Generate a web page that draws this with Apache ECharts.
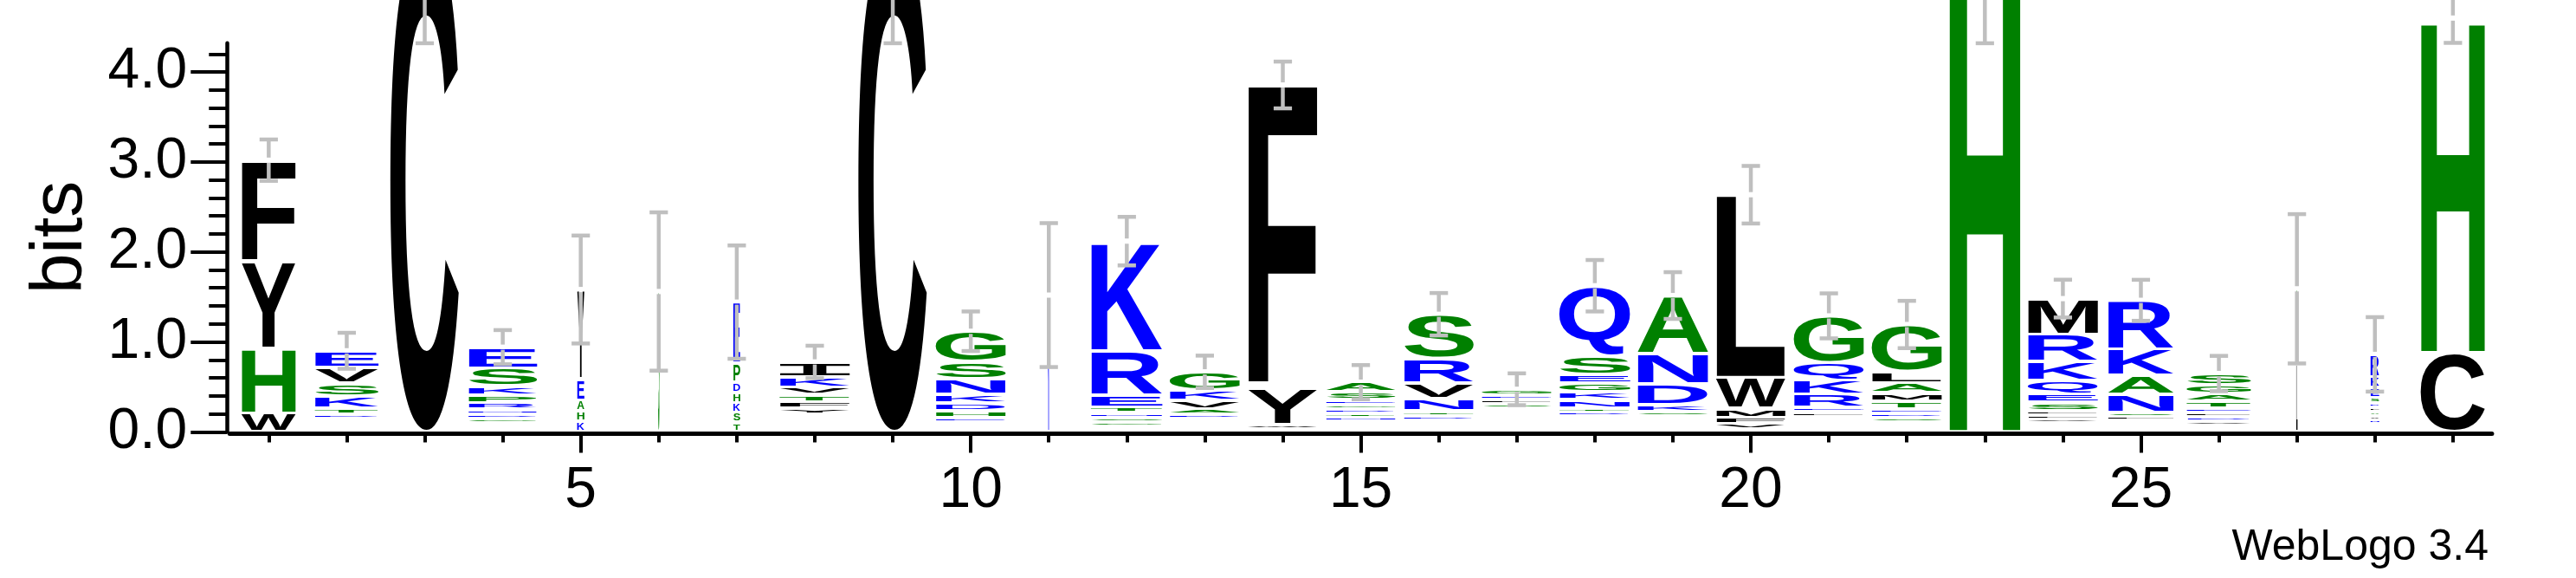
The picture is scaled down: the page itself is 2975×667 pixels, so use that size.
<!DOCTYPE html>
<html><head><meta charset="utf-8">
<script src="https://cdn.jsdelivr.net/npm/echarts@6/dist/echarts.min.js"></script>
<style>html,body{margin:0;padding:0;background:#fff}#c{width:2975px;height:667px}</style>
</head><body><div id="c"></div><script>
// ---------------- data (letters listed bottom -> top, heights in bits) ----------------
const positions = [1,2,3,4,5,6,7,8,9,10,11,12,13,14,15,16,17,18,19,20,21,22,23,24,25,26,27,28,29];
const c01 = [['W',.21],['H',.72],['Y',.96],['F',1.13]];
const c02 = [['C',.03],['M',.03],['W',.03],['F',.03],['I',.03],['D',.048],['T',.067],['K',.132],['S',.143],['V',.178],['E',.183]];
const c03 = [['C',5.54]];
const c04 = [['C',.034],['W',.034],['M',.034],['G',.045],['D',.05],['N',.055],['R',.072],['P',.088],['K',.098],['S',.2],['E',.231]];
const c05 = [['K',.115],['H',.117],['A',.12],['E',.24],['Y',.99]];
const c06 = [['S',1.56]];
const c07 = [['T',.105],['S',.108],['K',.11],['H',.112],['D',.117],['P',.215],['E',.675]];
const c08 = [['C',.0325],['W',.0325],['M',.0325],['H',.0325],['G',.0325],['Q',.0325],['Y',.067],['F',.072],['T',.08],['V',.085],['K',.11],['I',.168]];
const c09 = [['C',5.54]];
const c10 = [['C',.036],['W',.036],['F',.036],['E',.048],['H',.078],['D',.084],['K',.099],['N',.171],['S',.188],['G',.342]];
const c11 = [['K',1.52]];
const c12 = [['C',.031],['W',.031],['G',.045],['S',.05],['N',.055],['T',.06],['E',.131],['R',.498],['K',1.219]];
const c13 = [['C',.03],['W',.03],['M',.03],['F',.03],['I',.03],['D',.048],['A',.058],['V',.096],['K',.115],['G',.2]];
const c14 = [['C',.035],['W',.048],['Y',.411],['F',3.362]];
const c15 = [['C',.0285],['W',.0285],['M',.0285],['F',.0285],['N',.045],['T',.048],['D',.048],['G',.05],['E',.05],['S',.087],['A',.11]];
const c16 = [['C',.033],['W',.033],['M',.033],['F',.033],['D',.048],['T',.05],['N',.138],['V',.178],['R',.27],['S',.491]];
const c17 = [['C',.033],['W',.033],['M',.033],['F',.033],['Y',.033],['H',.033],['P',.033],['I',.033],['S',.048],['L',.048],['E',.05],['G',.063]];
const c18 = [['C',.029],['W',.029],['M',.029],['F',.029],['Y',.029],['I',.029],['D',.045],['T',.048],['N',.088],['K',.092],['G',.095],['E',.098],['S',.204],['Q',.78]];
const c19 = [['C',.035],['W',.035],['M',.035],['F',.035],['Y',.035],['S',.045],['K',.079],['D',.237],['N',.332],['A',.647]];
const c20 = [['C',.029],['V',.058],['F',.07],['M',.106],['W',.34],['L',2.033]];
const c21 = [['C',.034],['W',.034],['M',.034],['F',.034],['Y',.034],['L',.05],['E',.053],['R',.146],['K',.159],['Q',.193],['G',.518]];
const c22 = [['C',.028],['W',.028],['F',.028],['Y',.028],['S',.046],['D',.048],['E',.05],['T',.088],['M',.09],['A',.112],['L',.127],['G',.52]];
const c23 = [['H',5.2]];
const c24 = [['C',.032],['W',.032],['Y',.032],['V',.045],['F',.048],['L',.048],['S',.09],['E',.095],['Q',.153],['K',.208],['R',.303],['M',.395]];
const c25 = [['C',.0315],['W',.0315],['M',.0315],['Y',.0315],['F',.045],['S',.048],['N',.2],['A',.209],['K',.294],['R',.54]];
const c26 = [['C',.037],['W',.037],['V',.045],['D',.046],['L',.048],['E',.05],['T',.075],['A',.085],['G',.095],['S',.13]];
const c27 = [['L',.75],['G',.84]];
const c28 = [['T',.043],['Q',.044],['N',.045],['V',.046],['A',.047],['L',.048],['D',.048],['S',.06],['E',.11],['K',.12],['R',.25]];
const c29 = [['C',.88],['H',3.72]];
const occupancy = [0.76,0.89,0.96,0.96,0.10,0.018,0.095,0.98,0.96,0.98,0.018,1.0,0.98,0.975,0.97,0.975,0.975,0.99,0.99,0.97,0.98,0.98,1.0,0.98,0.92,0.90,0.018,0.12,0.90];
const errorBits = [0.23,0.20,1.22,0.19,0.60,0.88,0.63,0.18,1.22,0.22,0.80,0.27,0.18,0.26,0.19,0.236,0.177,0.286,0.26,0.32,0.25,0.263,0.88,0.21,0.228,0.196,0.83,0.414,0.276];
const xTickValues = positions;
const xLabelValues = [5,10,15,20,25];
const yLabelValues = [0,1,2,3,4];
const yMinorValues = [0.2,0.4,0.6,0.8,1.2,1.4,1.6,1.8,2.2,2.4,2.6,2.8,3.2,3.4,3.6,3.8,4.2];
const yMax = 4.3219;
const hydrophilic = 'RKDENQ', neutral = 'SGHTAP', hydrophobic = 'YVMCLFIW';

// ---------------- styling ----------------
const COLORS = {hydrophilic:'#0000FF', neutral:'#008000', hydrophobic:'#000000'};
const LETTER_WIDTH = 0.921, LETTER_GAP = 4;
const ERR_COLOR = '#BFBFBF', ERR_WIDTH = 4.5, ERR_CAP = 0.235, ERR_GAP = 3;
const SANS = 'Liberation Sans', MONO = 'DejaVu Sans Mono';

function colorOf(ch){
  if (hydrophilic.includes(ch)) return COLORS.hydrophilic;
  if (neutral.includes(ch)) return COLORS.neutral;
  return COLORS.hydrophobic;
}
function familyOf(ch){ return ch === 'I' ? MONO : SANS; }
const mctx = document.createElement('canvas').getContext('2d');
const mcache = {};
function metrics(ch){
  if (mcache[ch]) return mcache[ch];
  mctx.font = 'bold 100px ' + familyOf(ch);
  mctx.textBaseline = 'middle'; mctx.textAlign = 'left';
  const t = mctx.measureText(ch);
  return mcache[ch] = {l:t.actualBoundingBoxLeft, r:t.actualBoundingBoxRight, a:t.actualBoundingBoxAscent, d:t.actualBoundingBoxDescent};
}

const stacks = [c01,c02,c03,c04,c05,c06,c07,c08,c09,c10,c11,c12,c13,c14,c15,c16,c17,c18,c19,c20,c21,c22,c23,c24,c25,c26,c27,c28,c29];
const letterChars = [], letterData = [];
stacks.forEach((col, i) => {
  let y = 0;
  col.forEach(([ch, b]) => { letterData.push([positions[i], y, y + b, occupancy[i]]); letterChars.push(ch); y += b; });
});
const errData = stacks.map((col, i) => [positions[i], col.reduce((s, e) => s + e[1], 0), errorBits[i]]);

function renderLetter(params, api){
  const ch = letterChars[params.dataIndex];
  const p = api.value(0), y0 = api.value(1), y1 = api.value(2), occ = api.value(3);
  const a = api.coord([p, y0]), b = api.coord([p, y1]);
  const gh = (a[1] - b[1]) - LETTER_GAP;
  if (gh < 0.3) return null;
  const w = api.size([1, 0])[0] * LETTER_WIDTH * occ;
  const m = metrics(ch);
  const sx = w / (m.l + m.r), sy = gh / (m.a + m.d);
  const top = b[1] + LETTER_GAP / 2;
  return {type:'text', x: a[0] - w/2 + sx*m.l, y: top + sy*m.a, scaleX: sx, scaleY: sy,
    style:{text: ch, fill: colorOf(ch), fontSize: 100, fontFamily: familyOf(ch), fontWeight: 'bold',
      align:'left', verticalAlign:'middle', textAlign:'left', textVerticalAlign:'middle'}};
}
function renderError(params, api){
  const p = api.value(0), t = api.value(1), e = api.value(2);
  const c = api.coord([p, t]), hi = api.coord([p, t + e]), lo = api.coord([p, t - e]);
  const cap = api.size([1, 0])[0] * ERR_CAP;
  const st = {stroke: ERR_COLOR, lineWidth: ERR_WIDTH};
  return {type:'group', children:[
    {type:'line', shape:{x1:c[0], y1:hi[1], x2:c[0], y2:c[1]-ERR_GAP}, style:st},
    {type:'line', shape:{x1:c[0], y1:c[1]+ERR_GAP, x2:c[0], y2:lo[1]}, style:st},
    {type:'line', shape:{x1:c[0]-cap/2, y1:hi[1], x2:c[0]+cap/2, y2:hi[1]}, style:st},
    {type:'line', shape:{x1:c[0]-cap/2, y1:lo[1], x2:c[0]+cap/2, y2:lo[1]}, style:st}
  ]};
}

const chart = echarts.init(document.getElementById('c'), null, {renderer:'canvas'});
const axisFont = {fontFamily: SANS, fontSize: 66, color: '#000'};
chart.setOption({
  animation: false,
  grid: {left: 265.3, right: 97.1, top: 49.7, bottom: 168.7},
  xAxis: [
    {type:'value', min:0.5, max:29.5, position:'bottom', offset:2.2,
     axisLine:{show:true, onZero:false, lineStyle:{color:'#000', width:5}},
     axisTick:{show:true, customValues:xTickValues, length:10, lineStyle:{color:'#000', width:4}},
     axisLabel:{show:false}, splitLine:{show:false}},
    {type:'value', min:0.5, max:29.5, position:'bottom', offset:2.2,
     axisLine:{show:false, onZero:false},
     axisTick:{show:true, customValues:xLabelValues, length:22, lineStyle:{color:'#000', width:4}},
     axisLabel:Object.assign({show:true, customValues:xLabelValues, margin:33}, axisFont),
     splitLine:{show:false}}
  ],
  yAxis: [
    {type:'value', min:0, max:yMax, position:'left', offset:3,
     axisLine:{show:true, onZero:false, lineStyle:{color:'#000', width:4.5}},
     axisTick:{show:true, customValues:yLabelValues, length:42, lineStyle:{color:'#000', width:4}},
     axisLabel:Object.assign({show:true, customValues:yLabelValues, margin:46, formatter:v => Number(v).toFixed(1)}, axisFont),
     splitLine:{show:false}},
    {type:'value', min:0, max:yMax, position:'left', offset:3,
     axisLine:{show:false, onZero:false},
     axisTick:{show:true, customValues:yMinorValues, length:21, lineStyle:{color:'#000', width:4}},
     axisLabel:{show:false}, splitLine:{show:false}}
  ],
  graphic: [
    {type:'text', x:71, y:274, rotation:Math.PI/2,
     style:{text:'bits', fontFamily:SANS, fontSize:84, fill:'#000', align:'center', verticalAlign:'middle', textAlign:'center', textVerticalAlign:'middle'}},
    {type:'text', x:2874, y:632.7,
     style:{text:'WebLogo 3.4', fontFamily:SANS, fontSize:50, fill:'#000', align:'right', verticalAlign:'middle', textAlign:'right', textVerticalAlign:'middle'}}
  ],
  series: [
    {type:'custom', name:'letters', xAxisIndex:0, yAxisIndex:0, clip:false, z:2, silent:true,
     renderItem: renderLetter, data: letterData},
    {type:'custom', name:'errors', xAxisIndex:0, yAxisIndex:0, clip:false, z:3, silent:true,
     renderItem: renderError, data: errData}
  ]
});
</script></body></html>
